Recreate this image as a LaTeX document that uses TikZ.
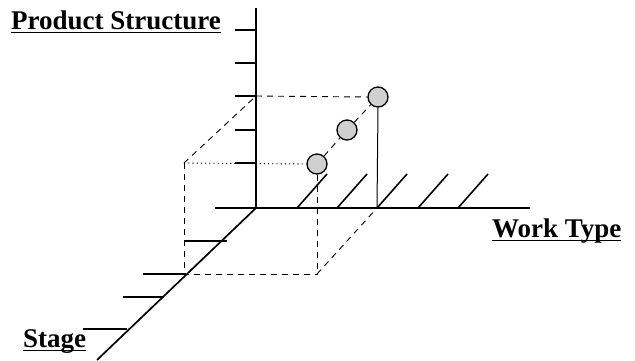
\documentclass[tikz,border=0pt]{standalone}
\usepackage{fontspec}
\setmainfont{Liberation Serif}
\usetikzlibrary{positioning,calc}
\definecolor{ballgray}{RGB}{208,208,208}
\newsavebox{\labelbox}
\newcommand{\undertext}[1]{\sbox{\labelbox}{#1}\rlap{\usebox{\labelbox}}\rule[-4pt]{\wd\labelbox}{1.5pt}}
\tikzset{
  axis/.style={line width=1.7pt, black},
  axistick/.style={line width=1.6pt, black},
  guide/.style={line width=0.9pt, dash pattern=on 6pt off 5pt},
  guidedot/.style={line width=0.9pt, dash pattern=on 1.2pt off 3pt},
  riser/.style={line width=1pt},
  ball/.style={circle, draw, line width=1.3pt, fill=ballgray, minimum size=20pt, inner sep=0pt},
  axislabel/.style={font=\bfseries\fontsize{27}{27}\selectfont, inner sep=0pt, anchor=base west},
}
\begin{document}
\begin{tikzpicture}[x=1pt, y=-1pt]
\useasboundingbox (0,0) rectangle (635,360);

% axes
\coordinate (origin) at (256,208);
\coordinate (ps-top) at (256,8);
\coordinate (wt-left) at (215,208);
\coordinate (wt-right) at (530,208);
\coordinate (st-end) at (97,360);
\draw[axis] (ps-top) -- (origin);
\draw[axis] (wt-left) -- (wt-right);
\draw[axis] (origin) -- (st-end);

% ticks
\foreach \y in {30,63,96,130,163}
  \draw[axistick] (235,\y) -- (256,\y);
\foreach \x in {297,337,377,418,458}
  \draw[axistick] (\x,208) -- ++(30,-34);
\foreach \a/\b/\y in {184/227/241, 143/186/274, 123/164/297, 83/127/329}
  \draw[axistick] (\a,\y) -- (\b,\y);

% points
\node[ball] (p1) at (317,164) {};
\node[ball] (p2) at (347,130) {};
\node[ball] (p3) at (378,97) {};

% projection box
\coordinate (bx-tl) at (184,163);
\coordinate (bx-bl) at (184,274);
\coordinate (bx-br) at (317,274);
\coordinate (bx-ps) at (256,96);
\coordinate (bx-wt) at (377,208);
\draw[guidedot] (bx-tl) -- (p1.west);
\draw[guide] (bx-tl) -- (bx-ps);
\draw[guide] (bx-ps) -- (p3.west);
\draw[guide] (bx-tl) -- (bx-bl) -- (bx-br);
\draw[guide] (p1.south) -- (bx-br);
\draw[guide] (bx-br) -- (bx-wt);
\draw[guide] (p1) -- (p2);
\draw[guide] (p2) -- (p3);
\draw[riser] (p3.south) -- (bx-wt);

% labels
\node[axislabel] (ps-label) at (11,29) {\undertext{Product Structure}};
\node[axislabel] (wt-label) at (492,237) {\undertext{Work Type}};
\node[axislabel] (st-label) at (23,347) {\undertext{Stage}};
\end{tikzpicture}
\end{document}
